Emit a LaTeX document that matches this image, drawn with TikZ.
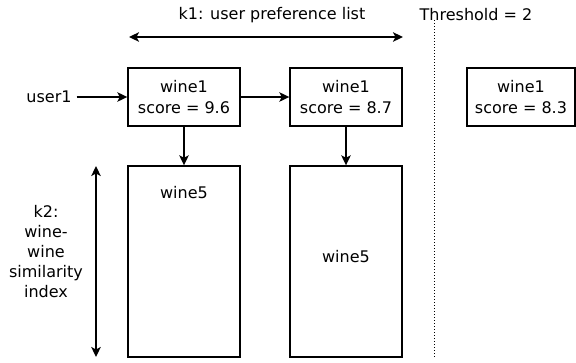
\documentclass[tikz,border=0pt]{standalone}
\usepackage{fontspec}
\setmainfont{DejaVu Sans}
\usetikzlibrary{arrows.meta}
\begin{document}
\begin{tikzpicture}[x=1pt,y=-1pt,
  every node/.style={font=\fontsize{16}{21}\selectfont, inner sep=0pt},
  card/.style={draw, line width=1.4pt, align=center, minimum height=58pt},
  tall/.style={draw, line width=1.4pt, minimum height=191pt, minimum width=112pt},
  tip/.tip={Stealth[length=10pt,width=9.5pt,inset=2.5pt]},
  link/.style={line width=1.5pt, -tip},
  span/.style={line width=1.5pt, tip-tip},
  ]
\useasboundingbox (0,0) rectangle (576,362);

% titles
\node (k1) at (272,15) {k1: user preference list};
\node (thr) at (476,15) {Threshold = 2};

% span of the preference list
\coordinate (k1l) at (129,37);
\coordinate (k1r) at (403,37);
\draw[span] (k1l) -- (k1r);

% threshold cut
\coordinate (cuttop) at (434,20);
\coordinate (cutbot) at (434,358);
\draw[dotted, line width=1pt] (cuttop) -- (cutbot);

% user and preference list
\node[inner xsep=5pt] (user) at (49,97) {user1};
\node[card, minimum width=112pt] (b1) at (184,97) {wine1\\score = 9.6};
\node[card, minimum width=112pt] (b2) at (346,97) {wine1\\score = 8.7};
\node[card, minimum width=108pt] (b3) at (521,97) {wine1\\score = 8.3};

\draw[link] (user.east) -- (user.east -| b1.west);
\draw[link] (b1.east) -- (b2.west);

% similarity lists
\node[tall] (r1) at (184,261.5) {};
\node[tall] (r2) at (346,261.5) {};
\node (w5a) at (184,193) {wine5};
\node (w5b) at (346,257) {wine5};

\draw[link] (b1.south) -- (r1.north);
\draw[link] (b2.south) -- (r2.north);

% span of the similarity index
\coordinate (k2t) at (96,166);
\coordinate (k2b) at (96,357);
\draw[span] (k2t) -- (k2b);
\node[align=center, font=\fontsize{16}{20}\selectfont] (k2) at (46,252)
  {k2:\\wine-\\wine\\similarity\\index};
\end{tikzpicture}
\end{document}
